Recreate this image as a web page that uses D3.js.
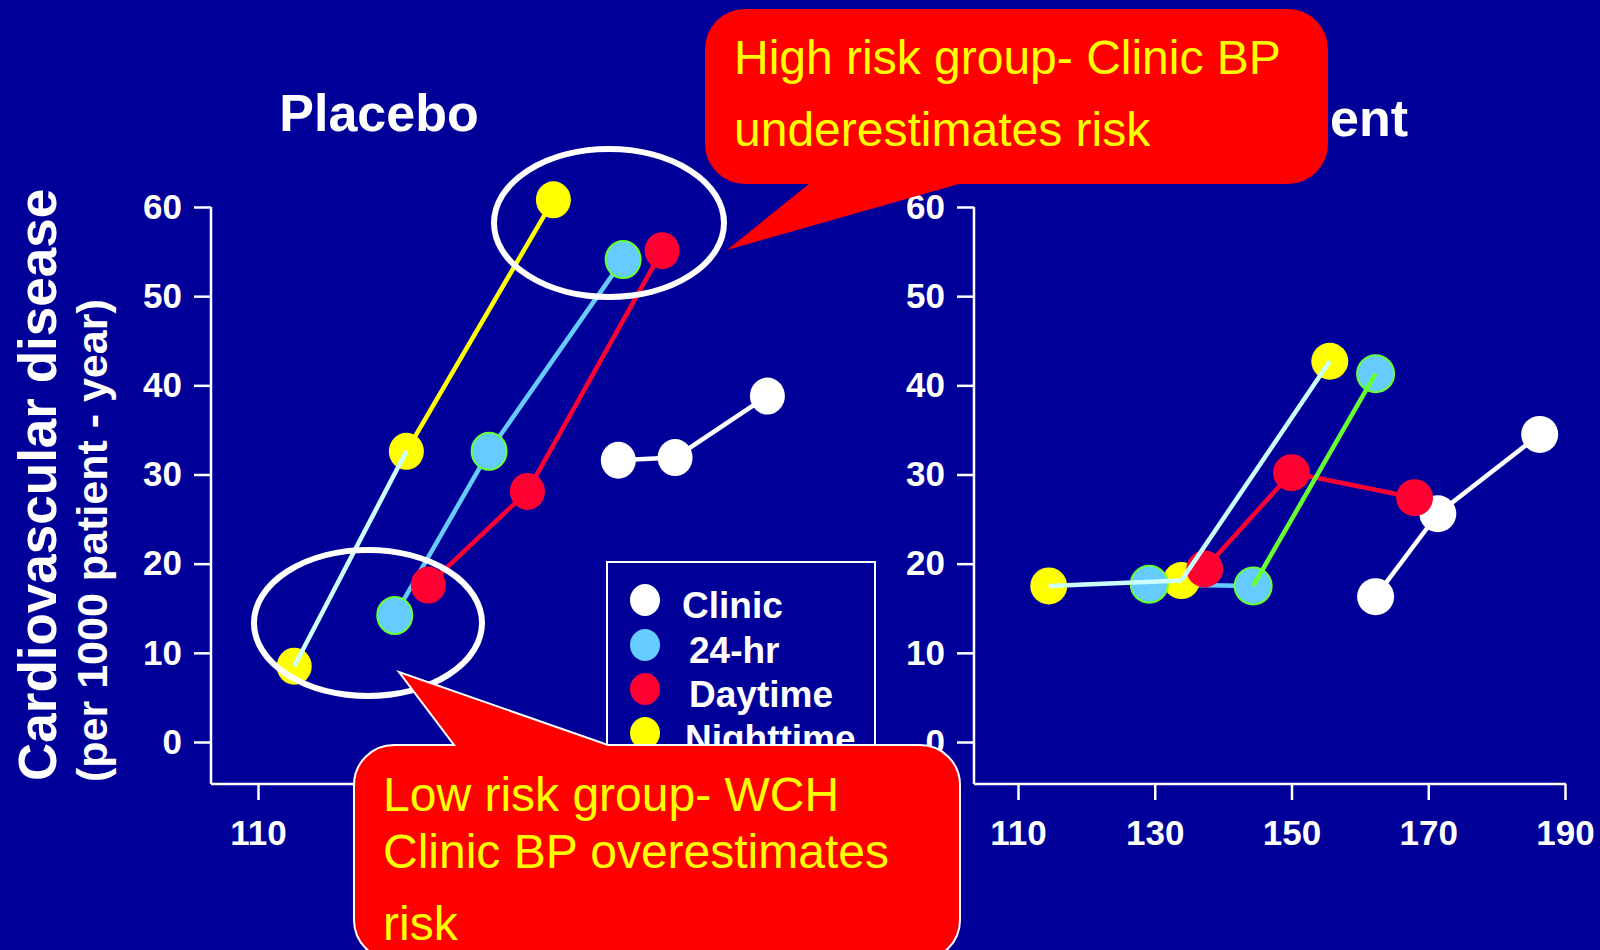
<!DOCTYPE html>
<html>
<head>
<meta charset="utf-8">
<title>Placebo vs Active Treatment</title>
<script src="https://d3js.org/d3.v7.min.js"></script>
<style>
  body { margin: 0; background: #000099; }
  svg { display: block; }
  text { font-family: "Liberation Sans", Arial, sans-serif; }
</style>
</head>
<body>
<svg width="1600" height="950"></svg>
<script>
// series order: Clinic, 24-hr, Daytime, Nighttime
var seriesNames = ["Clinic", "24-hr", "Daytime", "Nighttime"];
var xTicks = [110, 130, 150, 170, 190];
var yTicks = [0, 10, 20, 30, 40, 50, 60];

// systolic BP (x) and cardiovascular events per 1000 patient-years (y)
var placeboSBP = [[162.7, 171.0, 184.5], [130.0, 143.8, 163.4], [134.9, 149.4, 169.1], [115.3, 131.7, 153.2]];
var placeboCVD = [[31.6, 31.9, 38.8], [14.2, 32.6, 54.1], [17.6, 28.1, 55.1], [8.5, 32.6, 60.8]];
var activeSBP = [[162.3, 171.4, 186.3], [129.2, 144.4, 162.3], [137.3, 150.0, 168.0], [114.5, 133.9, 155.6]];
var activeCVD = [[16.3, 25.6, 34.5], [17.7, 17.5, 41.3], [19.4, 30.2, 27.4], [17.5, 18.1, 42.7]];

var calloutHigh = ["High risk group- Clinic BP", "underestimates risk"];
var calloutLow = ["Low risk group- WCH", "Clinic BP overestimates", "risk"];

var markerFill = ["#ffffff", "#66ccff", "#ff0033", "#ffff00"];
var WHITE = "#ffffff", BLUE = "#66ccff", RED = "#ff0033", YEL = "#ffff00", CYAN = "#ccffff", GREEN = "#66ff33";

var svg = d3.select("svg");
svg.append("rect").attr("width", 1600).attr("height", 950).attr("fill", "#000099");

var y = d3.scaleLinear().domain([0, 60]).range([742, 207]);
var axisY = 784;

// the low-risk callout hides the left panel's x labels from here on
var panels = [
  { title: "Placebo", tx: 379, ty: 131, anchor: "middle", sbp: placeboSBP, cvd: placeboCVD,
    axisX: 211, axisEnd: 805, xr: [258, 805], rx: 17.5, ry: 18.5, labelMax: 354,
    seg: [[WHITE, WHITE], [BLUE, BLUE], [RED, RED], [CYAN, YEL]] },
  { title: "Active Treatment", tx: 1408, ty: 136, anchor: "end", sbp: activeSBP, cvd: activeCVD,
    axisX: 974, axisEnd: 1566, xr: [1018, 1565], rx: 18.5, ry: 18.5, labelMax: 1600,
    seg: [[WHITE, WHITE], [BLUE, GREEN], [RED, RED], [CYAN, CYAN]] }
];

function styleAxis(a) {
  a.attr("font-family", null).attr("font-size", null);
  a.selectAll("line").attr("stroke", "white").attr("stroke-width", 2.5);
  a.selectAll("text").attr("fill", "white").attr("font-size", 35).attr("font-weight", "bold");
}

panels.forEach(function(p) {
  var x = d3.scaleLinear().domain([110, 190]).range(p.xr);
  var g = svg.append("g");

  g.append("text")
    .attr("x", p.tx).attr("y", p.ty)
    .attr("text-anchor", p.anchor)
    .attr("fill", "white").attr("font-size", 52).attr("font-weight", "bold")
    .text(p.title);

  var ya = g.append("g")
    .attr("transform", "translate(" + p.axisX + ",0)")
    .call(d3.axisLeft(y).tickValues(yTicks).tickSize(17).tickSizeOuter(0).tickPadding(12));
  ya.select(".domain").remove();
  styleAxis(ya);

  var xa = g.append("g")
    .attr("transform", "translate(0," + axisY + ")")
    .call(d3.axisBottom(x).tickValues(xTicks).tickSize(16).tickSizeOuter(0).tickPadding(20));
  xa.select(".domain").remove();
  xa.selectAll(".tick text").filter(function(d) { return x(d) > p.labelMax; }).remove();
  styleAxis(xa);

  g.append("line").attr("x1", p.axisX).attr("x2", p.axisX).attr("y1", y(60)).attr("y2", axisY)
    .attr("stroke", "white").attr("stroke-width", 2.5);
  g.append("line").attr("x1", p.axisX).attr("x2", p.axisEnd).attr("y1", axisY).attr("y2", axisY)
    .attr("stroke", "white").attr("stroke-width", 2.5);

  var under = g.append("g"), dots = g.append("g"), over = g.append("g");

  p.sbp.forEach(function(xs, i) {
    for (var j = 0; j < xs.length - 1; j++) {
      var c = p.seg[i][j];
      var layer = (c === CYAN || c === GREEN) ? over : under;
      layer.append("line")
        .attr("x1", x(xs[j])).attr("y1", y(p.cvd[i][j]))
        .attr("x2", x(xs[j + 1])).attr("y2", y(p.cvd[i][j + 1]))
        .attr("stroke", c).attr("stroke-width", 4.5);
    }
  });

  [3, 0, 1, 2].forEach(function(i) {
    dots.selectAll(null)
      .data(d3.zip(p.sbp[i], p.cvd[i]))
      .enter().append("ellipse")
      .attr("cx", function(d) { return x(d[0]); })
      .attr("cy", function(d) { return y(d[1]); })
      .attr("rx", p.rx).attr("ry", p.ry)
      .attr("fill", markerFill[i])
      .attr("stroke", i === 1 ? GREEN : "none")
      .attr("stroke-width", 2);
  });
});

// y axis titles
svg.append("text")
  .attr("transform", "translate(56,781) rotate(-90)")
  .attr("fill", "white").attr("font-size", 53).attr("font-weight", "bold")
  .text("Cardiovascular disease");
svg.append("text")
  .attr("transform", "translate(107,782) rotate(-90)")
  .attr("fill", "white").attr("font-size", 43).attr("font-weight", "bold")
  .text("(per 1000 patient - year)");

// legend
var lg = svg.append("g");
lg.append("rect").attr("x", 607).attr("y", 562).attr("width", 268).attr("height", 210)
  .attr("fill", "#000099").attr("stroke", "white").attr("stroke-width", 2);
var legY = [600, 645, 689, 733];
var legTx = [682, 689, 689, 685];
seriesNames.forEach(function(name, i) {
  lg.append("ellipse").attr("cx", 645).attr("cy", legY[i]).attr("rx", 15).attr("ry", 16)
    .attr("fill", markerFill[i]);
  lg.append("text").attr("x", legTx[i]).attr("y", legY[i] + 18)
    .attr("fill", "white").attr("font-size", 37).attr("font-weight", "bold")
    .text(name);
});

// highlight rings
svg.append("ellipse").attr("cx", 609).attr("cy", 223).attr("rx", 115).attr("ry", 74)
  .attr("fill", "none").attr("stroke", "white").attr("stroke-width", 6);
svg.append("ellipse").attr("cx", 368).attr("cy", 623).attr("rx", 114).attr("ry", 73)
  .attr("fill", "none").attr("stroke", "white").attr("stroke-width", 6);

// callouts
function bubble(L, T, R, B, r, tail) {
  var p = d3.path();
  p.moveTo(L + r, T);
  if (tail.side === "top") { tail.pts.forEach(function(q) { p.lineTo(q[0], q[1]); }); }
  p.lineTo(R - r, T);
  p.arcTo(R, T, R, T + r, r);
  p.lineTo(R, B - r);
  p.arcTo(R, B, R - r, B, r);
  if (tail.side === "bottom") { tail.pts.forEach(function(q) { p.lineTo(q[0], q[1]); }); }
  p.lineTo(L + r, B);
  p.arcTo(L, B, L, B - r, r);
  p.lineTo(L, T + r);
  p.arcTo(L, T, L + r, T, r);
  p.closePath();
  return p.toString();
}

svg.append("path")
  .attr("d", bubble(705, 9, 1328, 184, 40, { side: "bottom", pts: [[959, 184], [727, 250], [809, 184]] }))
  .attr("fill", "#ff0000");
calloutHigh.forEach(function(t, i) {
  svg.append("text").attr("x", 734).attr("y", 74 + i * 72)
    .attr("fill", YEL).attr("font-size", 48).text(t);
});

svg.append("path")
  .attr("d", bubble(354, 745, 960, 960, 40, { side: "top", pts: [[454, 745], [399, 672], [608, 745]] }))
  .attr("fill", "#ff0000").attr("stroke", "white").attr("stroke-width", 2);
var lowY = [811, 868, 940];
calloutLow.forEach(function(t, i) {
  svg.append("text").attr("x", 383).attr("y", lowY[i])
    .attr("fill", YEL).attr("font-size", 48).text(t);
});
</script>
</body>
</html>
